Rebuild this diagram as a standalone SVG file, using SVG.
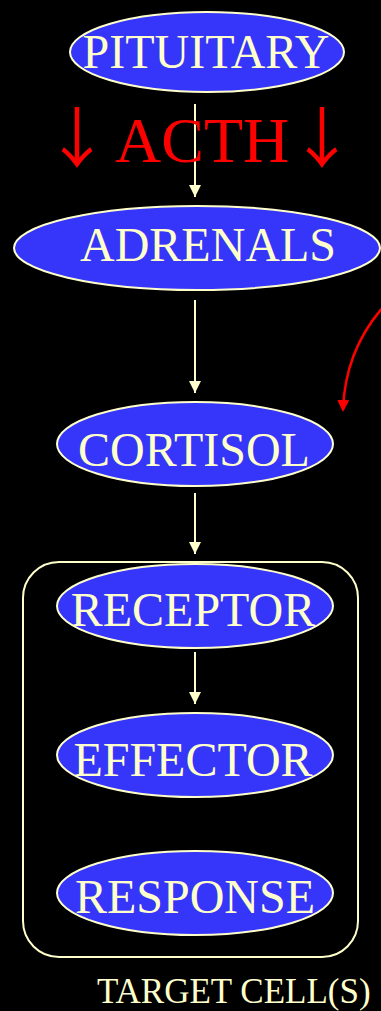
<svg xmlns="http://www.w3.org/2000/svg" width="381" height="1011" viewBox="0 0 381 1011">
  <style>
    .node ellipse { fill: #3636FA; stroke: #FFFFCC; stroke-width: 2; }
    .label { font-family: "Liberation Serif", "Times New Roman", serif; fill: #FFFFCC; font-size: 48px; text-anchor: middle; }
    .flow { stroke: #FFFFCC; stroke-width: 2; fill: none; }
    .feedback { stroke: #FF0000; stroke-width: 2.5; fill: none; }
    .hormone { font-family: "Liberation Serif", "Times New Roman", serif; fill: #FF0000; font-size: 64px; }
    .down { font-family: "Noto Sans CJK SC", "DejaVu Serif", sans-serif; font-size: 66px; }
  </style>
  <defs>
    <marker id="headCream" markerUnits="userSpaceOnUse" markerWidth="12" markerHeight="12" viewBox="0 0 12 12" refX="12" refY="6" orient="auto">
      <path d="M0 0 L12 6 L0 12 Z" fill="#FFFFCC"/>
    </marker>
    <marker id="headRed" markerUnits="userSpaceOnUse" markerWidth="12" markerHeight="12" viewBox="0 0 12 12" refX="10" refY="6" orient="auto">
      <path d="M0 0 L12 6 L0 12 Z" fill="#FF0000"/>
    </marker>
  </defs>

  <rect width="381" height="1011" fill="#000000"/>

  <!-- target cell boundary -->
  <g id="target-cell">
    <rect x="23" y="562" width="335" height="395" rx="36" ry="36" fill="none" stroke="#FFFFCC" stroke-width="2"/>
    <text x="97" y="1003" font-family="Liberation Serif, Times New Roman, serif" font-size="35" fill="#FFFFCC">TARGET CELL(S)</text>
  </g>

  <!-- connectors -->
  <g id="connectors">
    <line class="flow" x1="195" y1="104" x2="195" y2="197" marker-end="url(#headCream)"/>
    <line class="flow" x1="195" y1="300" x2="195" y2="393" marker-end="url(#headCream)"/>
    <line class="flow" x1="195" y1="493" x2="195" y2="554" marker-end="url(#headCream)"/>
    <line class="flow" x1="195" y1="652" x2="195" y2="704" marker-end="url(#headCream)"/>
    <path class="feedback" d="M384 306 Q345 350 343 410" marker-end="url(#headRed)"/>
  </g>

  <g id="acth">
    <text class="hormone" y="162"><tspan class="down" x="44">↓</tspan><tspan x="115">ACTH</tspan><tspan class="down" x="289">↓</tspan></text>
  </g>

  <g id="pituitary" class="node">
    <ellipse cx="207" cy="52" rx="137" ry="40"/>
    <text class="label" x="206" y="68">PITUITARY</text>
  </g>

  <g id="adrenals" class="node">
    <ellipse cx="197" cy="248" rx="183" ry="42"/>
    <text class="label" x="208" y="261">ADRENALS</text>
  </g>

  <g id="cortisol" class="node">
    <ellipse cx="195" cy="444" rx="138" ry="42"/>
    <text class="label" x="194" y="466">CORTISOL</text>
  </g>

  <g id="receptor" class="node">
    <ellipse cx="195" cy="606" rx="138" ry="42"/>
    <text class="label" x="193" y="626">RECEPTOR</text>
  </g>

  <g id="effector" class="node">
    <ellipse cx="195" cy="755" rx="138" ry="42"/>
    <text class="label" x="193" y="776">EFFECTOR</text>
  </g>

  <g id="response" class="node">
    <ellipse cx="195" cy="893" rx="138" ry="42"/>
    <text class="label" x="195" y="913">RESPONSE</text>
  </g>
</svg>
